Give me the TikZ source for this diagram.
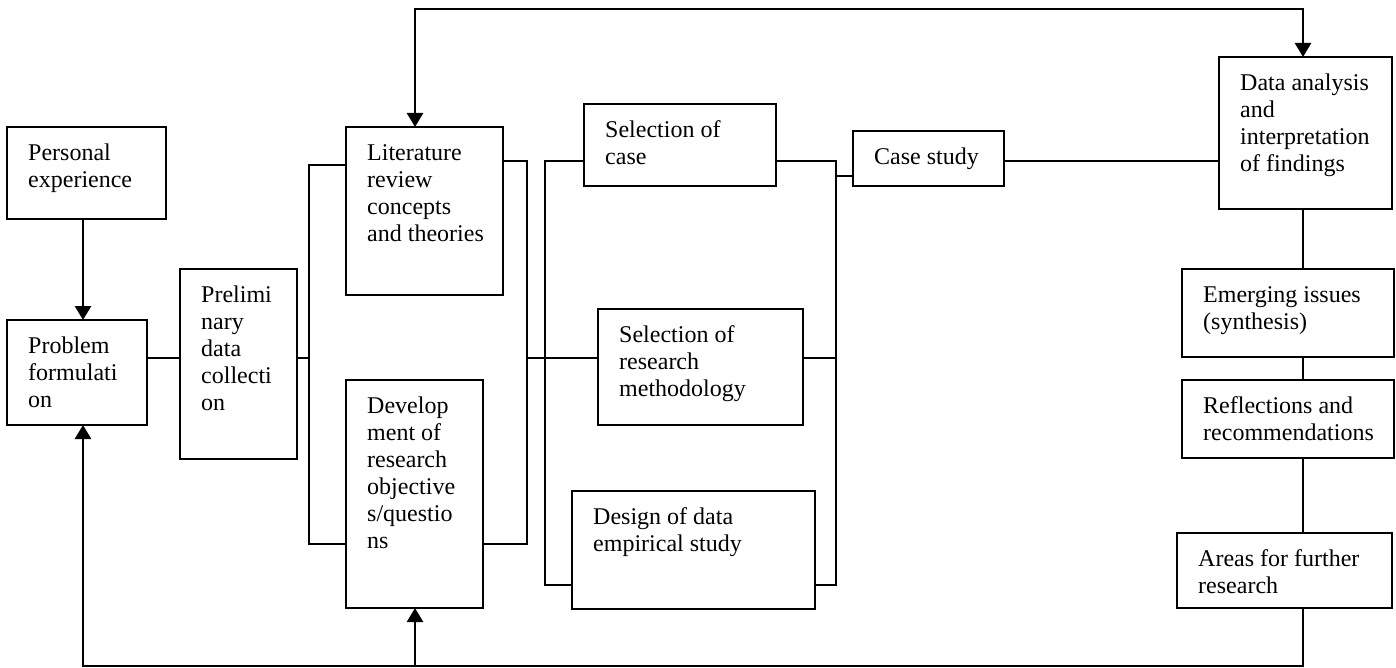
\documentclass[tikz,border=0pt]{standalone}
\usepackage{fontspec}
\setmainfont{Liberation Serif}
\usetikzlibrary{arrows.meta,calc}
\tikzset{
  boxs/.style={draw, line width=1.8pt, rectangle, inner sep=0pt, outer sep=0pt, anchor=north west},
  txt/.style={font=\fontsize{24}{27}\selectfont, align=left, inner sep=0pt, anchor=north west},
  conn/.style={line width=1.6pt},
  arrline/.style={line width=2.6pt},
  tip/.tip={Triangle[width=16pt,length=14pt]}
}
\newcommand\bx[6]{%
  \node[boxs, minimum width=#4pt, minimum height=#5pt] (#1) at (#2,#3) {};
  \node[txt] (#1-t) at ([shift={(21,13)}]#1.north west) {\rule{0pt}{20pt}#6};
}
\begin{document}
\begin{tikzpicture}[x=1pt,y=-1pt]
\useasboundingbox (0,0) rectangle (1396,668);
\bx{pe}{7}{127}{159}{92}{Personal\\experience}
\bx{pf}{7}{320}{140}{105}{Problem\\formulati\\on}
\bx{pre}{180}{269}{117}{190}{Prelimi\\nary\\data\\collecti\\on}
\bx{lit}{346}{127}{157}{168}{Literature\\review\\concepts\\and theories}
\bx{dev}{346}{380}{137}{228}{Develop\\ment of\\research\\objective\\s/questio\\ns}
\bx{sc}{584}{104}{192}{82}{Selection of\\case}
\bx{sm}{598}{309}{205}{116}{Selection of\\research\\methodology}
\bx{de}{572}{491}{243}{118}{Design of data\\empirical study}
\bx{cs}{853}{131}{151}{55}{Case study}
\bx{da}{1219}{57}{173}{152}{Data analysis\\and\\interpretation\\of findings}
\bx{em}{1182}{269}{212}{88}{Emerging issues\\(synthesis)}
\bx{re}{1182}{380}{212}{78}{Reflections and\\recommendations}
\bx{ar}{1177}{533}{215}{75}{Areas for further\\research}

\coordinate (xa) at (83,0);
\coordinate (xl) at (415,0);
\coordinate (spine) at (1303,0);
\coordinate (b1) at (309,0);
\coordinate (b2) at (527,0);
\coordinate (b3) at (545,0);
\coordinate (b4) at (836,0);
\coordinate (yrow) at (0,358);
\coordinate (ylt) at (0,165);
\coordinate (y161) at (0,161);
\coordinate (y176) at (0,176);
\coordinate (y544) at (0,544);
\coordinate (y585) at (0,585);
\coordinate (ybot) at (0,666);
\coordinate (ytop) at (0,9);

% arrows
\draw[arrline,-tip] (pe.south -| xa) -- (pf.north -| xa);
\draw[arrline,-tip] (ar.south -| spine) -- (spine |- ybot) -- (xa |- ybot) -- (pf.south -| xa);
\draw[arrline,-tip] (xl |- ybot) -- (dev.south -| xl);
\draw[arrline,tip-tip] (lit.north -| xl) -- (xl |- ytop) -- (spine |- ytop) -- (da.north -| spine);

% connectors
\draw[conn] (pf.east |- yrow) -- (pre.west |- yrow);
\draw[conn] (pre.east |- yrow) -- (b1 |- yrow);
\draw[conn] (lit.west |- ylt) -- (b1 |- ylt) -- (b1 |- y544) -- (dev.west |- y544);
\draw[conn] (lit.east |- y161) -- (b2 |- y161) -- (b2 |- y544) -- (dev.east |- y544);
\draw[conn] (b2 |- yrow) -- (b3 |- yrow);
\draw[conn] (sc.west |- y161) -- (b3 |- y161) -- (b3 |- y585) -- (de.west |- y585);
\draw[conn] (sc.east |- y161) -- (b4 |- y161) -- (b4 |- y585) -- (de.east |- y585);
\draw[conn] (b3 |- yrow) -- (sm.west |- yrow);
\draw[conn] (sm.east |- yrow) -- (b4 |- yrow);
\draw[conn] (b4 |- y176) -- (cs.west |- y176);
\draw[conn] (cs.east |- y161) -- (da.west |- y161);
\draw[conn] (da.south -| spine) -- (em.north -| spine);
\draw[conn] (em.south -| spine) -- (re.north -| spine);
\draw[conn] (re.south -| spine) -- (ar.north -| spine);
\end{tikzpicture}
\end{document}
